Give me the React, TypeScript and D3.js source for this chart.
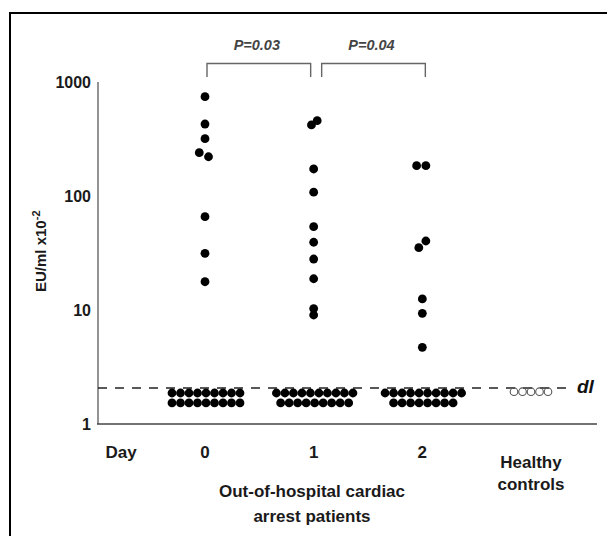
import React from "react";
import * as d3 from "d3";

// ---- data ----
const GROUPS = ["0", "1", "2", "Healthy controls"];
const DAY0_VALUES = [743, 428, 318, 240, 221, 65.8, 31.4, 17.7];
const DAY0_JITTER = [0, 0, 0, -1.3, 0.8, 0, 0, 0];
const DAY1_VALUES = [458, 420, 172.6, 108, 53.8, 39.3, 28, 18.8, 10.3, 9.04];
const DAY1_JITTER = [0.8, -0.5, 0, 0, 0, 0, 0, 0, 0, 0];
const DAY2_VALUES = [184.5, 184.5, 40.3, 35.2, 12.5, 9.35, 4.71];
const DAY2_JITTER = [-1.3, 0.8, 0.8, -0.8, 0, 0, 0];
// patients below detection limit: dots per row (upper row, lower row)
const BELOW_DL_ROWS = [
  [9, 9],
  [10, 9],
  [10, 8],
];
const BELOW_DL_ROW_VALUES = [1.87, 1.53];
const HEALTHY_COUNT = 5;
const HEALTHY_VALUE = 1.92;
const DETECTION_LIMIT = 2.07;
const Y_TICKS = [1, 10, 100, 1000];
const P_LABELS = ["P=0.03", "P=0.04"];
const P_PAIRS = [
  [0, 1],
  [1, 2],
];

const FONT = "'Liberation Sans', Arial, Helvetica, sans-serif";

export default function App() {
  const W = 607;
  const H = 536;
  const y = d3.scaleLog().domain([1, 1000]).range([424, 82]);
  const x = d3.scalePoint<string>().domain(GROUPS).range([205, 531]);
  const r = 4.4;
  const step = 8.5;

  const series = [
    { v: DAY0_VALUES, j: DAY0_JITTER },
    { v: DAY1_VALUES, j: DAY1_JITTER },
    { v: DAY2_VALUES, j: DAY2_JITTER },
  ];

  const dots: JSX.Element[] = [];
  series.forEach((s, gi) => {
    const cx = x(GROUPS[gi])!;
    s.v.forEach((val, i) => {
      dots.push(
        <circle key={`d${gi}-${i}`} cx={cx + s.j[i] * r} cy={y(val)} r={r} fill="#000" />
      );
    });
    BELOW_DL_ROWS[gi].forEach((count, ri) => {
      for (let k = 0; k < count; k++) {
        const off = (k - (count - 1) / 2) * step;
        dots.push(
          <circle
            key={`b${gi}-${ri}-${k}`}
            cx={cx + 1 + off}
            cy={y(BELOW_DL_ROW_VALUES[ri])}
            r={r}
            fill="#000"
          />
        );
      }
    });
  });
  const hx = x(GROUPS[3])!;
  for (let k = 0; k < HEALTHY_COUNT; k++) {
    const off = (k - (HEALTHY_COUNT - 1) / 2) * step;
    dots.push(
      <circle
        key={`h${k}`}
        cx={hx + off}
        cy={y(HEALTHY_VALUE)}
        r={3.8}
        fill="none"
        stroke="#555"
        strokeWidth={1.1}
      />
    );
  }

  const bracketOffsets = [
    [2, -3],
    [8, 3],
  ];

  const lab = { fontSize: 17, fontWeight: "bold" as const, fill: "#1a1a1a" };

  return (
    <svg
      width={W}
      height={H}
      style={{ position: "absolute", left: 0, top: 0, background: "#fff" }}
      fontFamily={FONT}
    >
      <rect x={0} y={0} width={W} height={H} fill="#fff" />
      {/* frame */}
      <rect x={10} y={13} width={640} height={600} fill="none" stroke="#000" strokeWidth={2} />

      {/* y axis */}
      <line x1={98} x2={98} y1={y(1000)} y2={y(1)} stroke="#888" strokeWidth={1.8} />
      {Y_TICKS.map((t) => (
        <text
          key={t}
          x={91}
          y={y(t)}
          dy="0.36em"
          textAnchor="end"
          fontSize={16}
          fontWeight="bold"
          fill="#1a1a1a"
        >
          {t}
        </text>
      ))}
      <text
        transform={`translate(46, 292) rotate(-90)`}
        fontSize={15}
        fontWeight="bold"
        fill="#1a1a1a"
      >
        EU/ml x10
        <tspan dy={-6} fontSize={11}>
          -2
        </tspan>
      </text>

      {/* x axis */}
      <line x1={97} x2={597} y1={y(1)} y2={y(1)} stroke="#444" strokeWidth={1.6} />

      {/* detection limit */}
      <line
        x1={98}
        x2={574}
        y1={y(DETECTION_LIMIT)}
        y2={y(DETECTION_LIMIT)}
        stroke="#222"
        strokeWidth={1.3}
        strokeDasharray="9,8"
      />
      <text
        x={577}
        y={y(DETECTION_LIMIT) + 5}
        fontSize={19}
        fontWeight="bold"
        fontStyle="italic"
        fill="#111"
      >
        dl
      </text>

      {/* P brackets */}
      {P_PAIRS.map(([a, b], i) => {
        const x1 = x(GROUPS[a])! + bracketOffsets[i][0];
        const x2 = x(GROUPS[b])! + bracketOffsets[i][1];
        return (
          <g key={`p${i}`}>
            <path
              d={`M${x1},77 V63.5 H${x2} V77`}
              fill="none"
              stroke="#666"
              strokeWidth={1.4}
            />
            <text
              x={(x1 + x2) / 2 - 2}
              y={50}
              textAnchor="middle"
              fontSize={14.5}
              fontWeight="bold"
              fontStyle="italic"
              fill="#444"
            >
              {P_LABELS[i]}
            </text>
          </g>
        );
      })}

      {dots}

      {/* x labels */}
      <text x={121} y={458} textAnchor="middle" {...lab}>
        Day
      </text>
      {GROUPS.slice(0, 3).map((g) => (
        <text key={g} x={x(g)} y={458} textAnchor="middle" {...lab}>
          {g}
        </text>
      ))}
      <text x={hx} y={468} textAnchor="middle" {...lab}>
        Healthy
      </text>
      <text x={hx} y={490} textAnchor="middle" {...lab}>
        controls
      </text>
      <text x={312} y={497} textAnchor="middle" {...lab}>
        Out-of-hospital cardiac
      </text>
      <text x={312} y={522} textAnchor="middle" {...lab}>
        arrest patients
      </text>
    </svg>
  );
}
